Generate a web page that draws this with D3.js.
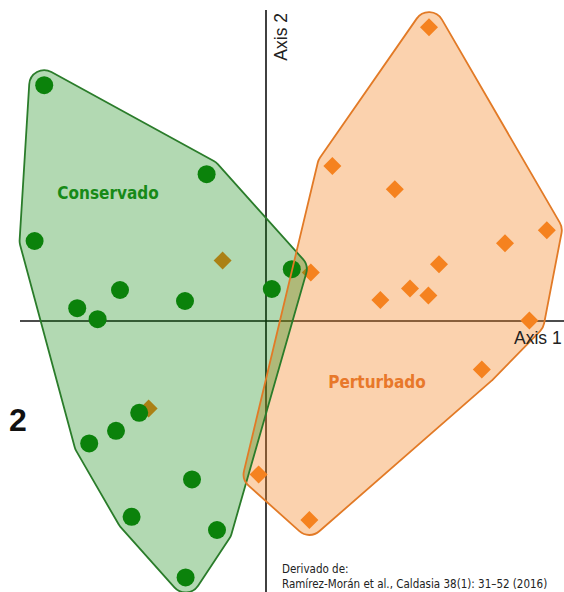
<!DOCTYPE html>
<html>
<head>
<meta charset="utf-8">
<script src="https://cdn.jsdelivr.net/npm/d3@7"></script>
<style>
  html, body { margin: 0; padding: 0; background: #fff; }
  svg { display: block; }
</style>
</head>
<body>
<svg id="chart" width="564" height="592"></svg>
<script>
// Ordination scores (Axis 1, Axis 2) for the conserved sites
const conservadoX = [-1.109, -0.297, -1.157, -0.730, -0.405, 0.029, 0.129, -0.944, -0.842, -0.634, -0.750, -0.884, -0.370, -0.672, -0.245, -0.402];
const conservadoY = [1.179, 0.734, 0.400, 0.155, 0.100, 0.160, 0.259, 0.064, 0.009, -0.459, -0.549, -0.612, -0.792, -0.979, -1.045, -1.282];

// Ordination scores for the disturbed sites
const perturbadoX = [0.815, 0.332, 0.644, 1.404, 1.195, 0.865, 0.224, 0.720, 0.812, 0.572, 1.317, 1.079, -0.037, 0.217];
const perturbadoY = [1.469, 0.775, 0.659, 0.454, 0.389, 0.284, 0.242, 0.162, 0.128, 0.105, 0.002, -0.242, -0.767, -0.995];

// Disturbed sites lying among the conserved ones (left out of the disturbed envelope)
const perturbadoExtraX = [-0.217, -0.587];
const perturbadoExtraY = [0.302, -0.437];

const axisLabels = ["Axis 1", "Axis 2"];
const groupLabels = ["Conservado", "Perturbado"];
const groupLabelX = [-0.79, 0.555];
const groupLabelY = [0.6125, -0.335];
const panelLabel = "2";
const sourceLines = ["Derivado de:", "Ramírez-Morán et al., Caldasia 38(1): 31–52 (2016)"];

const W = 564, H = 592;
const svg = d3.select("#chart");

const x = d3.scaleLinear().domain([-1.23, 1.49]).range([20, 564]);
const y = d3.scaleLinear().domain([-1.355, 1.555]).range([592, 10]);

const GREEN = "#0b820b", GREEN_LINE = "#2a7c2a", GREEN_TEXT = "#178a17";
const ORANGE = "#f5821f", ORANGE_LINE = "#e27a26", ORANGE_TEXT = "#e8782a";

const cons = conservadoX.map((v, i) => [v, conservadoY[i]]);
const pert = perturbadoX.map((v, i) => [v, perturbadoY[i]]);
const pertExtra = perturbadoExtraX.map((v, i) => [v, perturbadoExtraY[i]]);

// Convex hull of a group, grown outward by r pixels with rounded corners
function envelope(points, r) {
  const px = points.map(p => [x(p[0]), y(p[1])]);
  const hull = d3.polygonHull(px);
  const n = hull.length;
  const c = d3.polygonCentroid(hull);
  let area = 0;
  for (let i = 0; i < n; i++) {
    const a = hull[i], b = hull[(i + 1) % n];
    area += a[0] * b[1] - b[0] * a[1];
  }
  const sweep = area > 0 ? 1 : 0;
  const normals = hull.map((a, i) => {
    const b = hull[(i + 1) % n];
    const dx = b[0] - a[0], dy = b[1] - a[1];
    const len = Math.hypot(dx, dy);
    let nx = dy / len, ny = -dx / len;
    const mx = (a[0] + b[0]) / 2 - c[0], my = (a[1] + b[1]) / 2 - c[1];
    if (nx * mx + ny * my < 0) { nx = -nx; ny = -ny; }
    return [nx, ny];
  });
  let d = "";
  for (let i = 0; i < n; i++) {
    const a = hull[i], b = hull[(i + 1) % n], nn = normals[i];
    const nNext = normals[(i + 1) % n];
    const A = [a[0] + r * nn[0], a[1] + r * nn[1]];
    const B = [b[0] + r * nn[0], b[1] + r * nn[1]];
    const C = [b[0] + r * nNext[0], b[1] + r * nNext[1]];
    if (i === 0) d += `M${A[0]},${A[1]}`;
    d += `L${B[0]},${B[1]}A${r},${r} 0 0 ${sweep} ${C[0]},${C[1]}`;
  }
  return d + "Z";
}

const R_ENV = 15;

// Axes through the origin
svg.append("line")
  .attr("x1", x(x.domain()[0])).attr("x2", x(x.domain()[1]))
  .attr("y1", y(0)).attr("y2", y(0))
  .attr("stroke", "#111").attr("stroke-width", 1.6);
svg.append("line")
  .attr("x1", x(0)).attr("x2", x(0))
  .attr("y1", y(y.domain()[1])).attr("y2", y(y.domain()[0]))
  .attr("stroke", "#111").attr("stroke-width", 1.6);

// Disturbed envelope and its sites
const pertPath = envelope(pert, R_ENV);
svg.append("path").attr("d", pertPath)
  .attr("fill", ORANGE).attr("fill-opacity", 0.36).attr("stroke", "none");

const diamond = d3.symbol().type(d3.symbolSquare).size(162);
svg.append("g").selectAll("path")
  .data(pert.concat(pertExtra))
  .join("path")
  .attr("d", diamond)
  .attr("transform", d => `translate(${x(d[0])},${y(d[1])}) rotate(45)`)
  .attr("fill", ORANGE);

// Conserved envelope and its sites
const consPath = envelope(cons, R_ENV);
svg.append("path").attr("d", consPath)
  .attr("fill", "rgb(0,128,0)").attr("fill-opacity", 0.3).attr("stroke", "none");

svg.append("g").selectAll("circle")
  .data(cons)
  .join("circle")
  .attr("cx", d => x(d[0]))
  .attr("cy", d => y(d[1]))
  .attr("r", 9)
  .attr("fill", GREEN);

// Envelope outlines
svg.append("path").attr("d", consPath)
  .attr("fill", "none").attr("stroke", GREEN_LINE).attr("stroke-width", 1.8)
  .attr("stroke-linejoin", "round");
svg.append("path").attr("d", pertPath)
  .attr("fill", "none").attr("stroke", ORANGE_LINE).attr("stroke-width", 1.8)
  .attr("stroke-linejoin", "round");

// Group names
const groupFont = "'DejaVu Sans Condensed', 'DejaVu Sans', Verdana, sans-serif";
[GREEN_TEXT, ORANGE_TEXT].forEach((col, i) => {
  svg.append("text")
    .attr("x", x(groupLabelX[i])).attr("y", y(groupLabelY[i]))
    .attr("text-anchor", "middle")
    .attr("font-family", groupFont)
    .attr("font-stretch", "condensed")
    .attr("font-weight", "bold")
    .attr("font-size", 17)
    .attr("fill", col)
    .text(groupLabels[i]);
});

// Axis names
const axisFont = "'Liberation Sans', Arial, sans-serif";
svg.append("text")
  .attr("x", 514).attr("y", 344)
  .attr("font-family", axisFont).attr("font-size", 17.5)
  .attr("fill", "#222")
  .text(axisLabels[0]);
svg.append("text")
  .attr("transform", `translate(287,13) rotate(-90)`)
  .attr("text-anchor", "end")
  .attr("font-family", axisFont).attr("font-size", 17.5)
  .attr("fill", "#222")
  .text(axisLabels[1]);

// Panel number
svg.append("text")
  .attr("x", 9).attr("y", 431)
  .attr("font-family", axisFont).attr("font-weight", "bold")
  .attr("font-size", 32).attr("fill", "#111")
  .text(panelLabel);

// Source note
const note = svg.append("text")
  .attr("font-family", groupFont)
  .attr("font-stretch", "condensed")
  .attr("font-size", 11.5)
  .attr("fill", "#222");
sourceLines.forEach((s, i) => {
  note.append("tspan").attr("x", 282).attr("y", 572.5 + i * 15.3).text(s);
});
</script>
</body>
</html>
